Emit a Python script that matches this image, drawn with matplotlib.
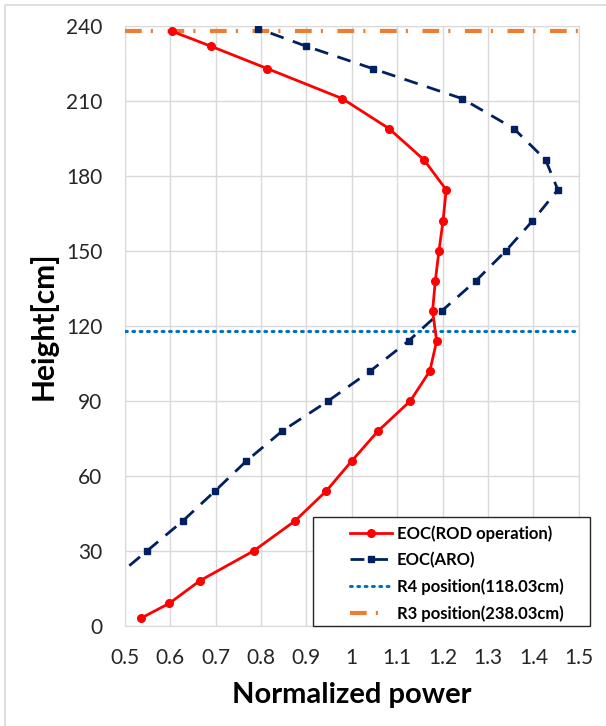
import numpy as np
import matplotlib as mpl
mpl.use('Agg')
import matplotlib.pyplot as plt
from matplotlib.patches import Rectangle

#axial power profiles
rod_power = [0.535, 0.598, 0.665, 0.784, 0.875, 0.944, 1.000, 1.058, 1.129, 1.172,
             1.187, 1.178, 1.184, 1.192, 1.201, 1.208, 1.159, 1.082, 0.979, 0.814,
             0.689, 0.603]
rod_height = [3, 9, 18, 30, 42, 54, 66, 78, 90, 102,
              114, 126, 138, 150, 162, 174.5, 186.5, 199, 211, 223,
              232, 238]

aro_power = [0.47, 0.549, 0.628, 0.699, 0.768, 0.847, 0.948, 1.041, 1.125, 1.198,
             1.273, 1.339, 1.398, 1.454, 1.427, 1.357, 1.243, 1.046, 0.899, 0.794]
aro_height = [18, 30, 42, 54, 66, 78, 90, 102, 114, 126,
              138, 150, 162, 174.5, 186.5, 199, 211, 223, 232, 239]

r4_pos = 118.03
r3_pos = 238.03

plt.rcParams['font.family'] = ['Lato', 'DejaVu Sans']

fig = plt.figure(figsize=(6.06, 7.26), dpi=100)
ax = fig.add_axes([0.206, 0.138, 0.749, 0.826])

#chart area border like the spreadsheet export
fig.patches.append(Rectangle((0.008, -0.01), 1.1, 1.003, transform=fig.transFigure,
                             fill=False, edgecolor='#d9d9d9', linewidth=1.2))

ax.plot(rod_power, rod_height, '-o', color='#ff0000', lw=2.0, ms=5.5,
        label='EOC(ROD operation)', zorder=5)
ax.plot(aro_power, aro_height, '--s', color='#002060', lw=2.0, ms=5,
        dashes=(5, 3.5), label='EOC(ARO)', zorder=4)
ax.axhline(r4_pos, color='#0070c0', lw=2.2, ls=(0, (0.6, 1.8)),
           dash_capstyle='round', label='R4 position(118.03cm)', zorder=3)
ax.axhline(r3_pos, color='#ed7d31', lw=3.0, ls=(0, (4, 2.2, 0.5, 3.5)),
           label='R3 position(238.03cm)', zorder=3)

ax.set_xlim(0.5, 1.5)
ax.set_ylim(0, 240)
ax.set_xticks(np.arange(0.5, 1.51, 0.1))
ax.set_xticklabels(['0.5', '0.6', '0.7', '0.8', '0.9', '1', '1.1', '1.2', '1.3', '1.4', '1.5'])
ax.set_yticks(np.arange(0, 241, 30))
ax.grid(True, color='#d9d9d9', lw=1.0)
ax.set_axisbelow(True)
for s in ax.spines.values():
    s.set_color('#d9d9d9')
ax.tick_params(length=0, labelsize=15, colors='#262626')
ax.tick_params(axis='x', pad=16)
ax.tick_params(axis='y', pad=16)

ax.set_xlabel('Normalized power', fontsize=21, fontweight='bold', labelpad=10)
ax.set_ylabel('Height[cm]', fontsize=21.5, fontweight='bold', labelpad=6)

#legend box drawn separately so it can have the wide left margin of the original
ax.add_patch(Rectangle((0.414, 0.0), 0.61, 0.182, transform=ax.transAxes,
                       facecolor='white', edgecolor='#262626', lw=1.0,
                       clip_on=False, zorder=6))
leg = ax.legend(loc='upper left', bbox_to_anchor=(0.496, 0.168),
                prop={'weight': 'bold', 'size': 12}, frameon=False,
                handlelength=2.5, handletextpad=0.3, borderpad=0,
                borderaxespad=0, labelspacing=0.62)
leg.set_zorder(7)

plt.savefig('out.png', dpi=100)
